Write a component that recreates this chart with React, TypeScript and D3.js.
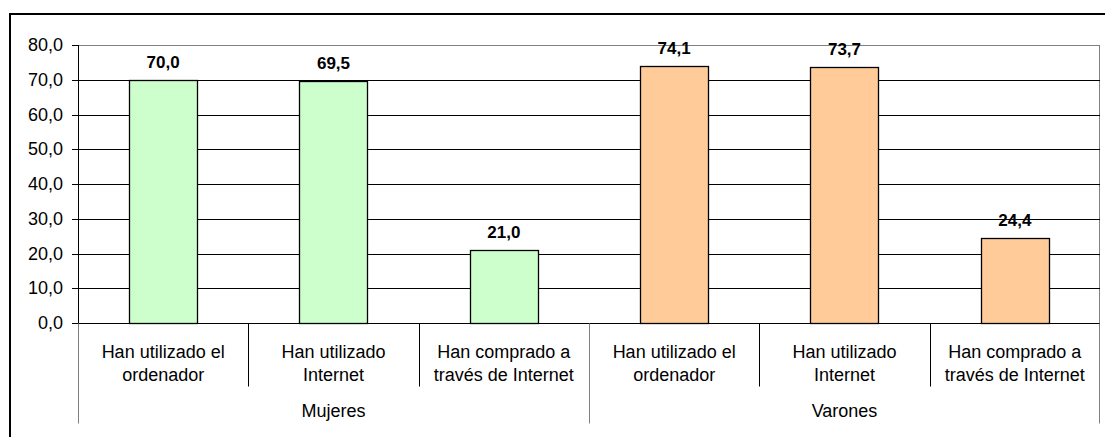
import React, { useEffect, useRef } from 'react';
import * as d3 from 'd3';

const groups = ['Mujeres', 'Varones'];
const categories = [
  ['Han utilizado el', 'ordenador'],
  ['Han utilizado', 'Internet'],
  ['Han comprado a', 'través de Internet'],
];
const mujeresValues = [70.0, 69.5, 21.0];
const varonesValues = [74.1, 73.7, 24.4];
const yTicks = [0, 10, 20, 30, 40, 50, 60, 70, 80];
const groupColors = ['#CCFFCC', '#FFCC99'];

const App = () => {
  const svgRef = useRef<SVGSVGElement>(null);
  const width = 1105;
  const height = 437;
  const margin = { left: 78, right: 5, top: 45, bottom: 114 };

  useEffect(() => {
    const svg = d3.select(svgRef.current);
    svg.selectAll('*').remove();

    const fmt = (v: number) => v.toFixed(1).replace('.', ',');
    const rows = [
      ...mujeresValues.map((v, i) => ({ g: 0, c: i, v })),
      ...varonesValues.map((v, i) => ({ g: 1, c: i, v })),
    ];
    const keys = rows.map((d, i) => String(i));

    const x = d3.scaleBand()
      .domain(keys)
      .range([margin.left, width - margin.right])
      .paddingInner(0)
      .paddingOuter(0);

    const y = d3.scaleLinear()
      .domain([0, 80])
      .range([height - margin.bottom, margin.top]);

    const font = '"Liberation Sans", Arial, sans-serif';
    const fs = '18px';

    // outer frame
    svg.append('rect')
      .attr('x', 10).attr('y', 14)
      .attr('width', width + 20).attr('height', height + 20)
      .attr('fill', 'white')
      .attr('stroke', '#000')
      .attr('stroke-width', 2);

    // plot border
    svg.append('rect')
      .attr('x', margin.left + 0.5).attr('y', y(80) + 0.5)
      .attr('width', width - margin.right - margin.left - 1)
      .attr('height', y(0) - y(80))
      .attr('fill', 'white')
      .attr('stroke', '#808080');

    // gridlines
    svg.append('g')
      .selectAll('line')
      .data(yTicks.filter(t => t > 0 && t < 80))
      .enter()
      .append('line')
      .attr('x1', margin.left).attr('x2', width - margin.right)
      .attr('y1', d => Math.round(y(d)) + 0.5).attr('y2', d => Math.round(y(d)) + 0.5)
      .attr('stroke', '#000');

    // bars
    const bw = x.bandwidth() * 0.4;
    svg.append('g')
      .selectAll('rect')
      .data(rows)
      .enter()
      .append('rect')
      .attr('x', (d, i) => Math.round(x(keys[i])! + (x.bandwidth() - bw) / 2) + 0.5)
      .attr('y', d => Math.round(y(d.v)) + 0.5)
      .attr('width', Math.round(bw))
      .attr('height', d => Math.round(y(0)) - Math.round(y(d.v)))
      .attr('fill', d => groupColors[d.g])
      .attr('stroke', '#000')
      .attr('stroke-width', 1.3);

    // value labels
    svg.append('g')
      .selectAll('text')
      .data(rows)
      .enter()
      .append('text')
      .attr('x', (d, i) => x(keys[i])! + x.bandwidth() / 2)
      .attr('y', d => y(d.v) - 12)
      .attr('text-anchor', 'middle')
      .style('font-family', font)
      .style('font-size', '17px')
      .style('font-weight', 'bold')
      .text(d => fmt(d.v));

    // y axis
    const y0 = Math.round(y(0)) + 0.5;
    svg.append('line')
      .attr('x1', margin.left + 0.5).attr('x2', margin.left + 0.5)
      .attr('y1', margin.top).attr('y2', y0)
      .attr('stroke', '#000');
    svg.append('line')
      .attr('x1', margin.left).attr('x2', width - margin.right)
      .attr('y1', y0).attr('y2', y0)
      .attr('stroke', '#000');

    const yAxis = svg.append('g');
    yAxis.selectAll('line')
      .data(yTicks)
      .enter()
      .append('line')
      .attr('x1', margin.left - 6).attr('x2', margin.left)
      .attr('y1', d => Math.round(y(d)) + 0.5).attr('y2', d => Math.round(y(d)) + 0.5)
      .attr('stroke', '#000');
    yAxis.selectAll('text')
      .data(yTicks)
      .enter()
      .append('text')
      .attr('x', margin.left - 15)
      .attr('y', d => y(d) + 6)
      .attr('text-anchor', 'end')
      .style('font-family', font)
      .style('font-size', fs)
      .text(d => fmt(d));

    // category separators
    const inner = d3.range(1, rows.length).filter(i => i % 3 !== 0);
    svg.append('g')
      .selectAll('line')
      .data(inner)
      .enter()
      .append('line')
      .attr('x1', i => Math.round(x(keys[i])!) + 0.5)
      .attr('x2', i => Math.round(x(keys[i])!) + 0.5)
      .attr('y1', y0).attr('y2', y0 + 63)
      .attr('stroke', '#000');

    const groupEdges = [margin.left, x(keys[3])!, width - margin.right - 1];
    svg.append('g')
      .selectAll('line')
      .data(groupEdges)
      .enter()
      .append('line')
      .attr('x1', d => Math.round(d) + 0.5)
      .attr('x2', d => Math.round(d) + 0.5)
      .attr('y1', y0).attr('y2', y0 + 100)
      .attr('stroke', '#808080');

    // category labels
    const catG = svg.append('g')
      .style('font-family', font)
      .style('font-size', fs)
      .attr('text-anchor', 'middle');
    rows.forEach((d, i) => {
      const cx = x(keys[i])! + x.bandwidth() / 2;
      categories[d.c].forEach((line, li) => {
        catG.append('text')
          .attr('x', cx)
          .attr('y', y0 + 34 + li * 23)
          .text(line);
      });
    });

    // group labels
    groups.forEach((g, gi) => {
      const cx = (x(keys[gi * 3])! + x(keys[gi * 3 + 2])! + x.bandwidth()) / 2;
      catG.append('text')
        .attr('x', cx)
        .attr('y', y0 + 93)
        .text(g);
    });
  }, []);

  return (
    <svg ref={svgRef} width={width} height={height}
      style={{ position: 'absolute', left: 0, top: 0, background: 'white' }} />
  );
};

export default App;
